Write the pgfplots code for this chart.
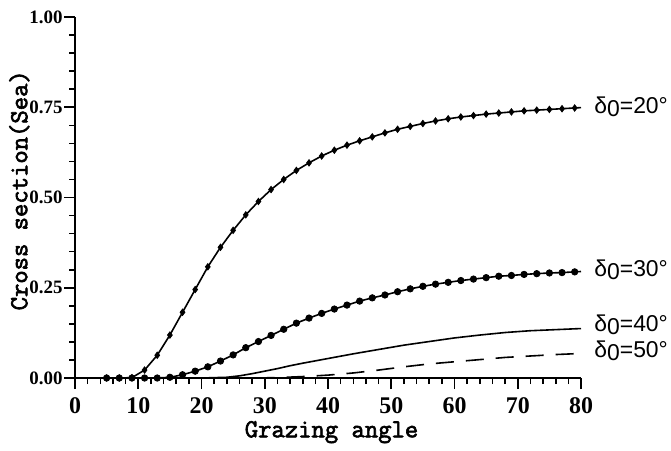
\documentclass[border=0pt]{standalone}
\usepackage{fontspec}
\usepackage{pgfplots}
\usepackage{pgfplotstable}
\pgfplotsset{compat=1.18}
\newfontfamily\lblfont{Liberation Sans}
\newfontfamily\tickfont{Liberation Serif}
\newfontfamily\monob[FakeBold=2.5]{Latin Modern Mono}

% delta_0 = 20 deg, markers at odd angles, line runs on to 80
\pgfplotstableread{
x y
5 0.000
7 0.000
9 0.001
11 0.022
13 0.063
15 0.119
17 0.182
19 0.245
21 0.308
23 0.362
25 0.409
27 0.452
29 0.489
31 0.522
33 0.550
35 0.575
37 0.596
39 0.615
41 0.631
43 0.645
45 0.657
47 0.668
49 0.679
51 0.689
53 0.697
55 0.705
57 0.712
59 0.718
61 0.723
63 0.727
65 0.731
67 0.734
69 0.737
71 0.740
73 0.742
75 0.744
77 0.746
79 0.748
80 0.749
}\dataA

% delta_0 = 30 deg
\pgfplotstableread{
x y
5 0.000
7 0.000
9 0.000
11 0.000
13 0.000
15 0.002
17 0.009
19 0.019
21 0.031
23 0.047
25 0.064
27 0.084
29 0.101
31 0.118
33 0.135
35 0.152
37 0.166
39 0.179
41 0.191
43 0.202
45 0.213
47 0.222
49 0.230
51 0.239
53 0.247
55 0.254
57 0.260
59 0.265
61 0.270
63 0.274
65 0.278
67 0.282
69 0.284
71 0.287
73 0.289
75 0.291
77 0.292
79 0.294
80 0.295
}\dataB

% delta_0 = 40 deg
\pgfplotstableread{
x y
5 0.000
20 0.000
24 0.002
26 0.006
28 0.012
30 0.019
32 0.026
34 0.034
36 0.041
40 0.054
44 0.067
48 0.079
52 0.091
56 0.101
60 0.111
64 0.119
68 0.126
72 0.131
76 0.134
80 0.137
}\dataC

% delta_0 = 50 deg
\pgfplotstableread{
x y
5 0.000
28 0.000
32 0.001
36 0.004
40 0.008
44 0.014
48 0.022
52 0.031
56 0.039
60 0.045
64 0.051
68 0.057
72 0.061
76 0.065
80 0.068
}\dataD

\begin{document}
\begin{tikzpicture}
\begin{axis}[
  name=ax,
  scale only axis,
  width=253bp, height=180.5bp,
  xmin=0, xmax=80, ymin=0, ymax=1,
  enlargelimits=false,
  clip=false,
  axis x line=bottom, axis y line=left,
  axis line style={-, line width=1bp},
  xtick={0,10,...,80},
  ytick={0,0.25,0.5,0.75,1},
  minor x tick num=4,
  minor y tick num=4,
  tick align=outside,
  major tick length=5.5bp,
  minor tick length=3bp,
  tick style={line width=0.8bp, black},
  /pgf/number format/assume math mode=true,
  xticklabel style={font=\fontsize{12}{13}\tickfont\bfseries, yshift=-1bp},
  yticklabel style={font=\fontsize{9.5}{11}\tickfont\bfseries, inner sep=0.5bp},
  yticklabel={\pgfmathprintnumber[fixed,fixed zerofill,precision=2]{\tick}},
  xlabel={Grazing angle},
  ylabel={Cross section(Sea)},
  label style={font=\fontsize{13}{15}\monob},
  xlabel style={at={(axis description cs:0.507,-0.15)}, anchor=center},
  ylabel style={at={(axis description cs:-0.11,0.52)}, anchor=center, rotate=0},
]
  \addplot[black, line width=0.8bp, no markers] table {\dataA};
  \addplot[black, only marks, mark=diamond*, mark size=1.6bp,
           skip coords between index={38}{39}] table {\dataA};
  \addplot[black, line width=0.8bp, no markers] table {\dataB};
  \addplot[black, only marks, mark=*, mark size=1.6bp,
           skip coords between index={38}{39}] table {\dataB};
  \addplot[black, line width=0.8bp, no markers] table {\dataC};
  \addplot[black, line width=0.8bp, no markers, dash pattern=on 9bp off 6bp] table {\dataD};

  \node[anchor=west, font=\fontsize{11.5}{13}\lblfont] at (axis cs:81,0.750) {δ\raisebox{-0.25ex}{0}=20°};
  \node[anchor=west, font=\fontsize{11.5}{13}\lblfont] at (axis cs:81,0.300) {δ\raisebox{-0.25ex}{0}=30°};
  \node[anchor=west, font=\fontsize{11.5}{13}\lblfont] at (axis cs:81,0.147) {δ\raisebox{-0.25ex}{0}=40°};
  \node[anchor=west, font=\fontsize{11.5}{13}\lblfont] at (axis cs:81,0.075) {δ\raisebox{-0.25ex}{0}=50°};
\end{axis}
\pgfresetboundingbox
\path ([shift={(-37.5bp,-36bp)}]ax.south west) rectangle ([shift={(45bp,8.5bp)}]ax.north east);
\end{tikzpicture}
\end{document}
